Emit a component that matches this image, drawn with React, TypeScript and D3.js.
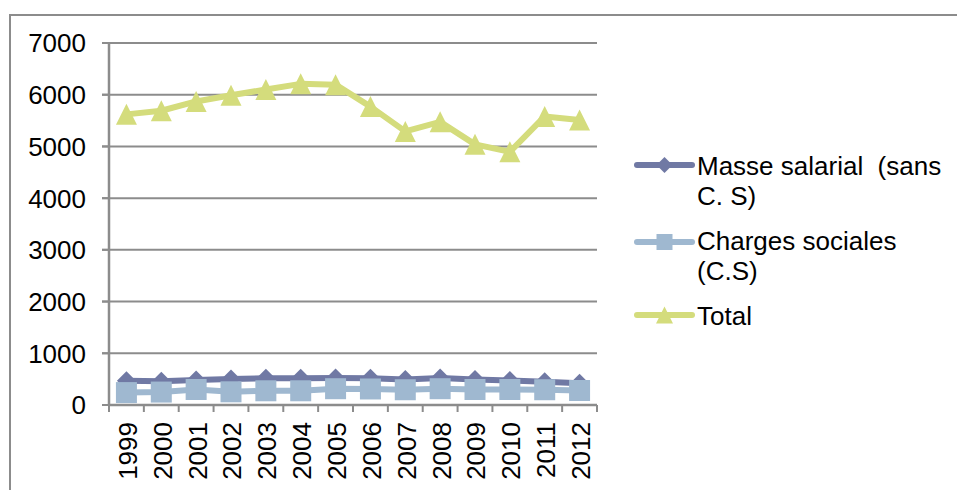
import React from "react";
import * as d3 from "d3";

// Yearly series
const years = ["1999", "2000", "2001", "2002", "2003", "2004", "2005", "2006", "2007", "2008", "2009", "2010", "2011", "2012"];
const masseSalariale = [470, 460, 485, 505, 515, 515, 520, 515, 495, 520, 495, 475, 450, 420];
const chargesSociales = [240, 250, 300, 255, 275, 275, 315, 310, 295, 315, 300, 300, 295, 280];
const total = [5620, 5690, 5870, 5990, 6100, 6210, 6195, 5770, 5290, 5475, 5040, 4895, 5580, 5510];
const yTicks = [0, 1000, 2000, 3000, 4000, 5000, 6000, 7000];

const W = 957;
const H = 490;
const FONT = "'Liberation Sans', Arial, sans-serif";
const GRID = "#8c8c8c";

type Marker = "diamond" | "square" | "triangle";

const seriesDefs: { name: string[]; values: number[]; color: string; marker: Marker }[] = [
  { name: ["Masse salarial  (sans", "C. S)"], values: masseSalariale, color: "#7079a4", marker: "diamond" },
  { name: ["Charges sociales", "(C.S)"], values: chargesSociales, color: "#9fb8d0", marker: "square" },
  { name: ["Total"], values: total, color: "#d4dc7c", marker: "triangle" },
];

function markerPath(kind: Marker, cx: number, cy: number, s: number): string {
  const h = s / 2;
  if (kind === "diamond") return `M${cx},${cy - h}L${cx + h},${cy}L${cx},${cy + h}L${cx - h},${cy}Z`;
  if (kind === "square") return `M${cx - h},${cy - h}H${cx + h}V${cy + h}H${cx - h}Z`;
  return `M${cx},${cy - h}L${cx + h},${cy + h}L${cx - h},${cy + h}Z`;
}

const markerSize: Record<Marker, number> = { diamond: 19, square: 21, triangle: 21 };
const legendMarkerSize: Record<Marker, number> = { diamond: 16, square: 16, triangle: 17 };

export default function App() {
  const x = d3.scaleBand<string>().domain(years).range([109, 597]).padding(0);
  const y = d3.scaleLinear().domain([0, 7000]).range([405, 43]);
  const cx = (yr: string) => (x(yr) as number) + x.bandwidth() / 2;

  const line = d3
    .line<number>()
    .x((_, i) => cx(years[i]))
    .y((v) => y(v));

  const legendX0 = 637;
  const legendX1 = 692;
  const legendRows = [165, 242, 315];
  const legendTextY = [175, 250, 325];

  return (
    <svg
      width={W}
      height={H}
      style={{ position: "absolute", left: 0, top: 0, background: "#fff" }}
      fontFamily={FONT}
    >
      {/* chart frame */}
      <rect x={10} y={15} width={W + 20} height={H + 20} fill="#fff" stroke={GRID} strokeWidth={2} />

      {/* horizontal gridlines and y ticks */}
      {yTicks.map((t) => (
        <g key={t}>
          {t > 0 && <line x1={102} x2={597} y1={y(t)} y2={y(t)} stroke={GRID} strokeWidth={2} />}
          <line x1={102} x2={109} y1={y(t)} y2={y(t)} stroke={GRID} strokeWidth={2} />
          <text x={86} y={y(t)} dy="0.36em" textAnchor="end" fontSize={26} fill="#000">
            {t}
          </text>
        </g>
      ))}

      {/* axes */}
      <line x1={109} x2={109} y1={43} y2={406} stroke={GRID} strokeWidth={2.5} />
      <line x1={108} x2={597} y1={405} y2={405} stroke={GRID} strokeWidth={2.5} />
      {years.map((yr) => (
        <line key={"t" + yr} x1={x(yr) as number} x2={x(yr) as number} y1={405} y2={412} stroke={GRID} strokeWidth={2} />
      ))}
      <line x1={597} x2={597} y1={405} y2={412} stroke={GRID} strokeWidth={2} />

      {/* x labels */}
      {years.map((yr) => (
        <text
          key={"l" + yr}
          transform={`translate(${cx(yr) + 1},${422}) rotate(-90)`}
          dy="0.36em"
          textAnchor="end"
          fontSize={26}
          fill="#000"
        >
          {yr}
        </text>
      ))}

      {/* series */}
      {seriesDefs.map((s) => (
        <g key={s.name[0]}>
          <path d={line(s.values) as string} fill="none" stroke={s.color} strokeWidth={6} strokeLinejoin="round" />
          {s.values.map((v, i) => (
            <path key={i} d={markerPath(s.marker, cx(years[i]), y(v), markerSize[s.marker])} fill={s.color} />
          ))}
        </g>
      ))}

      {/* legend */}
      {seriesDefs.map((s, k) => (
        <g key={"lg" + k}>
          <line x1={legendX0} x2={legendX1} y1={legendRows[k]} y2={legendRows[k]} stroke={s.color} strokeWidth={6} strokeLinecap="round" />
          <path d={markerPath(s.marker, (legendX0 + legendX1) / 2, legendRows[k], legendMarkerSize[s.marker])} fill={s.color} />
          <text x={697} y={legendTextY[k]} fontSize={26} fill="#000" style={{ whiteSpace: "pre" }}>
            {s.name.map((ln, j) => (
              <tspan key={j} x={697} y={legendTextY[k] + j * 30}>
                {ln}
              </tspan>
            ))}
          </text>
        </g>
      ))}
    </svg>
  );
}
